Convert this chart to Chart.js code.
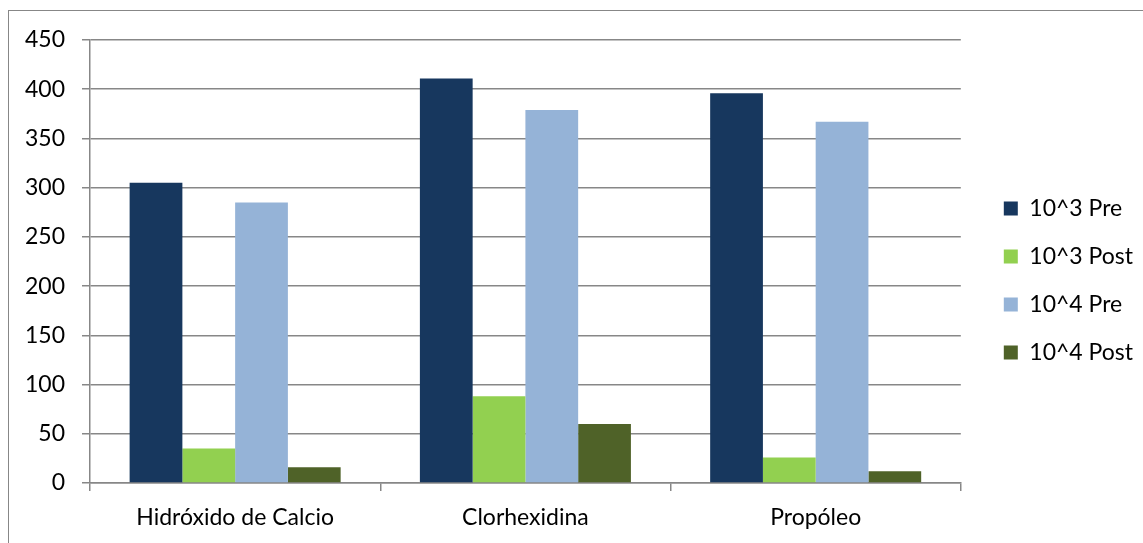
<!DOCTYPE html>
<html>
<head>
<meta charset="utf-8">
<script src="https://cdn.jsdelivr.net/npm/chart.js@4.4.1/dist/chart.umd.min.js"></script>
<style>
  html, body { margin: 0; padding: 0; background: #fff; }
  #wrap { position: relative; width: 1143px; height: 543px; }
</style>
</head>
<body>
<div id="wrap"><canvas id="grafica"></canvas></div>
<script>
// categorias y series
var categorias = ["Hidróxido de Calcio", "Clorhexidina", "Propóleo"];
var series = ["10^3 Pre", "10^3 Post", "10^4 Pre", "10^4 Post"];
var pre3 = [305, 411, 396];
var post3 = [35, 88, 26];
var pre4 = [285, 379, 367];
var post4 = [16, 60, 12];
var colores = ["#17375E", "#92D050", "#95B3D7", "#4F6228"];

var gris = "#878787";
var fuente = "Lato, 'Open Sans', sans-serif";

// marco exterior del grafico
var marco = {
  id: 'marco',
  beforeDraw: function(chart) {
    var ctx = chart.ctx;
    ctx.save();
    ctx.fillStyle = '#fff';
    ctx.fillRect(0, 0, chart.width, chart.height);
    ctx.strokeStyle = gris;
    ctx.lineWidth = 1;
    ctx.strokeRect(8.5, 10.5, chart.width + 10, chart.height + 10);
    ctx.restore();
  }
};

var valores = [pre3, post3, pre4, post4];
var datasets = series.map(function(nombre, i) {
  return {
    label: nombre,
    data: valores[i],
    backgroundColor: colores[i],
    borderWidth: 0,
    categoryPercentage: 0.727,
    barPercentage: 1.0
  };
});

// ejes vacios que solo reservan espacio
function hueco(posicion, tam) {
  return {
    type: 'linear',
    position: posicion,
    display: true,
    grid: { display: false, drawTicks: false },
    border: { display: false },
    ticks: { display: false },
    afterFit: function(s) {
      if (posicion == 'top') s.height = tam; else s.width = tam;
    }
  };
}

var ctx = document.getElementById("grafica").getContext("2d");
var grafico = new Chart(ctx, {
  type: 'bar',
  data: { labels: categorias, datasets: datasets },
  plugins: [marco],
  options: {
    responsive: true,
    maintainAspectRatio: false,
    animation: false,
    layout: { padding: { top: 18, left: 20, right: 0, bottom: 0 } },
    plugins: {
      tooltip: { enabled: false },
      legend: {
        position: 'right',
        labels: {
          boxWidth: 14,
          boxHeight: 14,
          padding: 25,
          color: '#000',
          font: { family: fuente, size: 23 }
        }
      }
    },
    scales: {
      x: {
        grid: {
          offset: true,
          drawOnChartArea: false,
          drawTicks: true,
          tickLength: 8,
          color: gris,
          lineWidth: 1.5
        },
        border: { display: true, color: gris, width: 1.5 },
        ticks: { color: '#000', padding: 13, font: { family: fuente, size: 23 } },
        afterFit: function(s) { s.height = 60; }
      },
      y: {
        min: 0,
        max: 450,
        ticks: { stepSize: 50, color: '#000', padding: 17, font: { family: fuente, size: 23 } },
        grid: { color: gris, lineWidth: 1.5, tickLength: 8 },
        border: { display: true, color: gris, width: 1.5 },
        afterFit: function(s) { s.width = 70; }
      },
      arriba: hueco('top', 22),
      derecha: hueco('right', 18)
    }
  }
});
</script>
</body>
</html>
